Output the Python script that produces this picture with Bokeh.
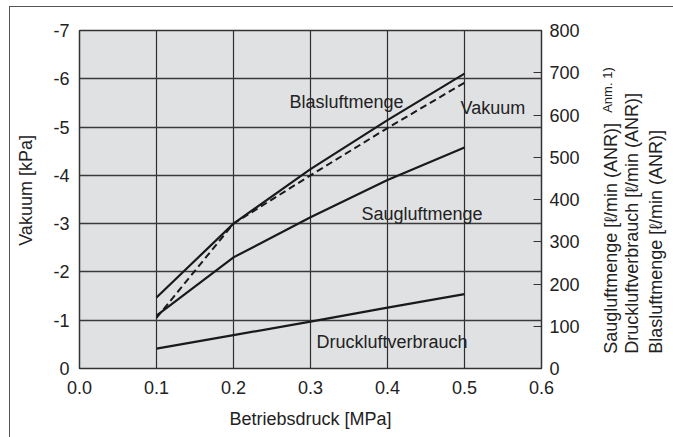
from bokeh.plotting import figure
from bokeh.layouts import column, row
from bokeh.models import Range1d, LinearAxis, FixedTicker, PrintfTickFormatter, Label, Spacer
from bokeh.core.properties import value
from bokeh.embed import file_html
from bokeh.resources import INLINE

# ---- data ----
pressure = [0.1, 0.2, 0.3, 0.4, 0.5]                 # Betriebsdruck [MPa]
blasluftmenge = [168, 343, 472, 588, 698]            # l/min (ANR)
saugluftmenge = [125, 263, 358, 446, 523]            # l/min (ANR)
druckluftverbrauch = [47, 79, 111, 144, 176]         # l/min (ANR)
vakuum = [-1.05, -3.0, -4.0, -4.98, -5.92]           # kPa

x_ticks = [0.0, 0.1, 0.2, 0.3, 0.4, 0.5, 0.6]
vak_ticks = [0, -1, -2, -3, -4, -5, -6, -7]
flow_ticks = [0, 100, 200, 300, 400, 500, 600, 700, 800]

curve_names = ["Blasluftmenge", "Vakuum", "Saugluftmenge", "Druckluftverbrauch"]
right_label_lines = ["Saugluftmenge [ℓ/min (ANR)]",
                     "Druckluftverbrauch [ℓ/min (ANR)]",
                     "Blasluftmenge [ℓ/min (ANR)]"]
right_label_note = "Anm. 1)"
left_label = "Vakuum [kPa]"
bottom_label = "Betriebsdruck [MPa]"

# ---- positions / styles ----
name_x = [0.2727, 0.4948, 0.3662, 0.3078]
name_y = [-5.52, -5.39, -3.20, -0.54]

FONT = "Liberation Sans"
INK = "#1a1a1a"
TXT = "#222222"
EDGE = "#555555"

PAD_L, PAD_T = 9, 6            # outer frame line position
ROW_X0 = PAD_L + 1             # first pixel right of the frame line
ROW_Y0 = PAD_T + 1             # first pixel below the frame line
LEFT_W = 30
RIGHT_W = 83
MAIN_W = 673 - ROW_X0 - LEFT_W - RIGHT_W
ROW_H = 437 - ROW_Y0
FRAME_TOP, FRAME_BOTTOM = 29.7, 367.7   # page pixels of the plot frame
B_TOP = int(round(FRAME_TOP - ROW_Y0))
B_BOTTOM = ROW_H - B_TOP - 338


def strip(w, x0):
    s = figure(width=w, height=ROW_H,
               x_range=Range1d(x0, x0 + w), y_range=Range1d(FRAME_BOTTOM, FRAME_TOP),
               x_axis_type=None, y_axis_type=None,
               output_backend="svg", toolbar_location=None,
               min_border_left=0, min_border_right=0,
               min_border_top=B_TOP, min_border_bottom=B_BOTTOM)
    s.outline_line_color = None
    s.background_fill_color = "white"
    s.border_fill_color = "white"
    return s


# ---- main chart ----
p = figure(width=MAIN_W, height=ROW_H,
           x_range=Range1d(0, 0.6), y_range=Range1d(0, -7),
           output_backend="svg", toolbar_location=None,
           min_border_left=79 - ROW_X0 - LEFT_W, min_border_right=MAIN_W - (79 - ROW_X0 - LEFT_W) - 462,
           min_border_top=B_TOP, min_border_bottom=B_BOTTOM)
p.extra_y_ranges = {"flow": Range1d(0, 800)}

p.background_fill_color = "#e0e1e3"
p.border_fill_color = "white"
p.outline_line_color = "#333333"
p.outline_line_width = 1.5

xa = p.xaxis[0]
xa.ticker = FixedTicker(ticks=x_ticks)
xa.formatter = PrintfTickFormatter(format="%.1f")
xa.major_tick_in = 0
xa.major_tick_out = 0
xa.minor_tick_line_color = None
xa.axis_line_color = "#333333"
xa.major_label_text_font = FONT
xa.major_label_text_font_size = "18px"
xa.major_label_text_color = TXT
xa.major_label_standoff = 12
xa.axis_label = bottom_label
xa.axis_label_text_font = FONT
xa.axis_label_text_font_size = "18px"
xa.axis_label_text_font_style = "normal"
xa.axis_label_text_color = TXT
xa.axis_label_standoff = 12

ya = p.yaxis[0]
ya.ticker = FixedTicker(ticks=vak_ticks)
ya.formatter = PrintfTickFormatter(format="%d")
ya.major_tick_in = 0
ya.major_tick_out = 0
ya.minor_tick_line_color = None
ya.axis_line_color = "#333333"
ya.major_label_text_font = FONT
ya.major_label_text_font_size = "18px"
ya.major_label_text_color = TXT
ya.major_label_standoff = 10

ra = LinearAxis(y_range_name="flow", ticker=FixedTicker(ticks=flow_ticks))
ra.major_tick_in = 8
ra.major_tick_out = 0
ra.major_tick_line_color = "#333333"
ra.minor_tick_line_color = None
ra.axis_line_color = "#333333"
ra.major_label_text_font = FONT
ra.major_label_text_font_size = "18px"
ra.major_label_text_color = TXT
ra.major_label_standoff = 8
p.add_layout(ra, "right")

p.xgrid.ticker = FixedTicker(ticks=x_ticks)
p.ygrid.ticker = FixedTicker(ticks=vak_ticks)
p.xgrid.grid_line_color = "#2e2e2e"
p.ygrid.grid_line_color = "#3a3a3a"
p.xgrid.grid_line_width = 1.2
p.ygrid.grid_line_width = 1.4

p.line(pressure, blasluftmenge, y_range_name="flow", line_color=INK, line_width=2.2)
p.line(pressure, saugluftmenge, y_range_name="flow", line_color=INK, line_width=2.2)
p.line(pressure, druckluftverbrauch, y_range_name="flow", line_color=INK, line_width=2.2)
p.line(pressure, vakuum, line_color=INK, line_width=2.0, line_dash="7 4")

p.text(x=name_x, y=name_y, text=curve_names,
       text_font=value(FONT), text_font_size="18px", text_color=TXT,
       text_baseline="alphabetic", text_align="left")

# ---- left strip: left axis title (coordinates = page pixels) ----
left = strip(LEFT_W, ROW_X0)
left.add_layout(Label(x=25, y=245, text=left_label,
                      angle=90, angle_units="deg", text_font=FONT,
                      text_font_size="18px", text_color=TXT,
                      text_baseline="alphabetic", text_align="left"))

# ---- right strip: right axis title (coordinates = page pixels) ----
right = strip(RIGHT_W, 673 - RIGHT_W)
for bx, line in zip([610, 631.5, 655], right_label_lines):
    right.add_layout(Label(x=bx, y=353, text=line,
                           angle=90, angle_units="deg", text_font=FONT,
                           text_font_size="18px", text_color=TXT,
                           text_baseline="alphabetic", text_align="left"))
right.add_layout(Label(x=607, y=112, text=right_label_note,
                       angle=90, angle_units="deg", text_font=FONT,
                       text_font_size="13px", text_color=TXT,
                       text_baseline="alphabetic", text_align="left"))

# ---- outer frame lines (top: gradient stripe, left: thin spacer) ----
top_band = Spacer(width=673, height=ROW_Y0, margin=0,
                  styles={"background-image": f"linear-gradient({EDGE}, {EDGE})",
                          "background-repeat": "no-repeat",
                          "background-position": f"{PAD_L}px {PAD_T}px",
                          "background-size": f"{673 - PAD_L}px 1px"})
left_line = Spacer(width=1, height=ROW_H, margin=0,
                   styles={"background-color": EDGE})

layout = column(
    top_band,
    row(Spacer(width=PAD_L, height=ROW_H, margin=0), left_line, left, p, right, spacing=0),
    spacing=0,
)
open("out.html", "w").write(file_html(layout, INLINE))
